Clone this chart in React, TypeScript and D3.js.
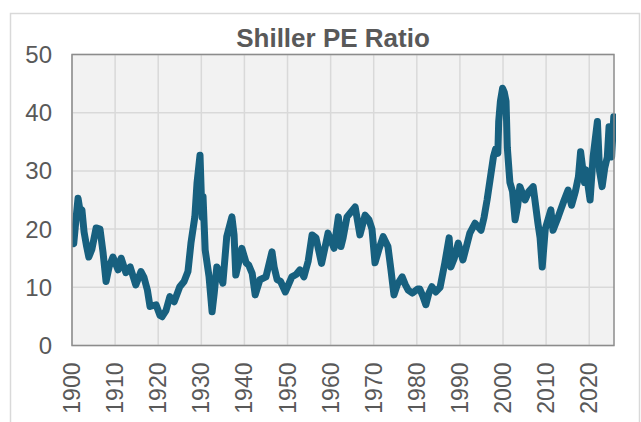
import React from "react";
import * as d3 from "d3";

const title = "Shiller PE Ratio";
const yTicks = [0, 10, 20, 30, 40, 50];
const xTicks = [1900, 1910, 1920, 1930, 1940, 1950, 1960, 1970, 1980, 1990, 2000, 2010, 2020];

const years = [
  1900.0, 1900.4, 1900.9, 1901.4, 1901.9, 1902.3, 1902.8, 1903.4, 1903.9, 1904.6, 1905.6, 1906.5, 1907.2, 1907.9,
  1908.6, 1909.5, 1910.7, 1911.4, 1912.5, 1913.5, 1914.8, 1916.0, 1916.7, 1917.5, 1918.1, 1919.5, 1920.4, 1920.9,
  1921.8, 1922.7, 1923.7, 1925.0, 1926.0, 1926.9, 1927.6, 1928.5, 1929.0, 1929.7, 1930.0, 1930.2, 1930.4, 1930.9,
  1931.8, 1932.5, 1933.0, 1933.6, 1934.3, 1935.0, 1935.9, 1937.1, 1937.6, 1938.0, 1938.6, 1939.4, 1940.4, 1941.0,
  1941.8, 1942.5, 1943.6, 1945.0, 1946.4, 1946.9, 1947.6, 1948.4, 1949.5, 1951.0, 1952.0, 1952.9, 1953.8, 1954.8,
  1955.7, 1956.6, 1957.9, 1958.6, 1959.4, 1960.8, 1961.8, 1962.4, 1962.9, 1963.8, 1965.7, 1966.8, 1968.0, 1968.9,
  1969.6, 1970.3, 1971.2, 1972.2, 1973.3, 1974.0, 1974.7, 1975.5, 1976.6, 1977.3, 1978.0, 1979.0, 1980.2, 1980.7,
  1981.4, 1982.1, 1982.8, 1983.5, 1984.4, 1985.4, 1986.5, 1987.5, 1987.9, 1988.7, 1989.6, 1990.7, 1991.5, 1992.3,
  1993.5, 1994.9, 1995.6, 1996.3, 1997.0, 1997.8, 1998.3, 1998.8, 1999.0, 1999.4, 1999.9, 2000.3, 2000.7, 2001.0,
  2001.6, 2002.2, 2002.8, 2003.4, 2003.9, 2005.1, 2006.0, 2007.0, 2007.4, 2008.1, 2008.6, 2009.1, 2009.8, 2011.1,
  2011.6, 2012.8, 2014.2, 2015.1, 2015.9, 2016.8, 2017.5, 2018.0, 2018.9, 2019.2, 2020.2, 2020.9, 2021.9, 2022.4,
  2023.0, 2023.6, 2024.2, 2024.6, 2025.2, 2025.7
];

const cape = [
  18.1, 17.5, 21.5, 25.3, 23.0, 23.3, 19.5, 17.0, 15.2, 16.5, 20.2, 20.0, 16.0, 11.0,
  13.5, 15.2, 13.0, 15.0, 12.5, 13.5, 10.4, 12.7, 11.7, 9.5, 6.7, 7.0, 5.2, 4.95,
  6.0, 8.4, 7.5, 10.1, 11.0, 12.7, 17.6, 22.1, 27.9, 32.7, 26.0, 22.0, 25.6, 16.4,
  11.8, 5.8, 9.0, 13.5, 12.5, 10.7, 18.7, 22.1, 19.0, 12.1, 14.0, 16.7, 14.2, 13.8,
  12.4, 8.7, 11.3, 11.8, 16.1, 13.5, 11.3, 11.0, 9.2, 11.8, 12.2, 13.0, 11.8, 14.5,
  19.0, 18.5, 14.1, 16.5, 19.3, 16.7, 22.1, 17.0, 18.5, 22.1, 23.8, 19.0, 22.4, 21.6,
  20.0, 14.2, 16.5, 18.7, 17.0, 13.0, 8.7, 10.5, 11.8, 10.5, 9.5, 9.0, 9.7, 9.7,
  8.5, 7.0, 9.0, 10.1, 9.2, 10.0, 14.2, 18.5, 13.5, 15.0, 17.6, 14.7, 17.0, 19.3,
  21.0, 19.8, 22.0, 25.0, 28.5, 32.5, 33.8, 33.0, 38.5, 42.0, 44.2, 43.5, 42.0, 34.0,
  28.0, 26.5, 21.6, 24.0, 27.3, 25.0, 26.5, 27.3, 25.0, 21.0, 18.5, 13.5, 20.0, 23.3,
  19.8, 22.1, 25.0, 26.7, 24.1, 26.5, 29.0, 33.3, 28.0, 30.2, 25.0, 32.4, 38.5, 30.0,
  27.3, 30.5, 32.4, 37.6, 32.4, 39.3
];

const W = 641;
const H = 422;
const plot = { left: 72, right: 614, top: 54.5, bottom: 345.5 };

export default function App() {
  const x = d3.scaleLinear().domain([1900, 2025.75]).range([plot.left, plot.right]);
  const y = d3.scaleLinear().domain([0, 50]).range([plot.bottom, plot.top]);
  const pts: [number, number][] = years.map((yr, i) => [yr, cape[i]]);
  const line = d3
    .line<[number, number]>()
    .x((d) => x(d[0]))
    .y((d) => y(d[1]))
    .curve(d3.curveLinear);

  const font = "'Liberation Sans', Arial, sans-serif";
  const textColor = "#595959";

  return (
    <svg
      width={W}
      height={H}
      style={{ position: "absolute", left: 0, top: 0, background: "#ffffff" }}
      fontFamily={font}
    >
      <rect x={10.5} y={13.5} width={629} height={420} fill="#ffffff" stroke="#d9d9d9" strokeWidth={1.5} />
      <defs>
        <clipPath id="plotclip">
          <rect x={plot.left} y={plot.top - 10} width={plot.right - plot.left + 2} height={plot.bottom - plot.top + 10} />
        </clipPath>
      </defs>
      <rect
        x={plot.left}
        y={plot.top}
        width={plot.right - plot.left}
        height={plot.bottom - plot.top}
        fill="#f2f2f2"
      />
      {xTicks.map((t) => (
        <line key={"gx" + t} x1={x(t)} x2={x(t)} y1={plot.top} y2={plot.bottom} stroke="#d9d9d9" strokeWidth={1.5} />
      ))}
      {yTicks.map((t) => (
        <line key={"gy" + t} x1={plot.left} x2={plot.right} y1={y(t)} y2={y(t)} stroke="#d9d9d9" strokeWidth={1.5} />
      ))}
      <path
        d={line(pts) || ""}
        fill="none"
        stroke="#17607f"
        strokeWidth={7}
        strokeLinejoin="round"
        strokeLinecap="round"
        clipPath="url(#plotclip)"
      />
      <rect
        x={plot.left}
        y={plot.top}
        width={plot.right - plot.left}
        height={plot.bottom - plot.top}
        fill="none"
        stroke="#8c8c8c"
        strokeWidth={1.5}
      />
      {yTicks.map((t) => (
        <text
          key={"ty" + t}
          x={52}
          y={y(t)}
          textAnchor="end"
          dominantBaseline="central"
          fontSize={24}
          fill={textColor}
        >
          {t}
        </text>
      ))}
      {xTicks.map((t) => (
        <text
          key={"tx" + t}
          transform={`translate(${x(t)},${plot.bottom + 17}) rotate(-90)`}
          textAnchor="end"
          dominantBaseline="central"
          fontSize={23}
          fill={textColor}
        >
          {t}
        </text>
      ))}
      <text x={333} y={46.5} textAnchor="middle" fontSize={26} fontWeight="bold" fill={textColor}>
        {title}
      </text>
    </svg>
  );
}
